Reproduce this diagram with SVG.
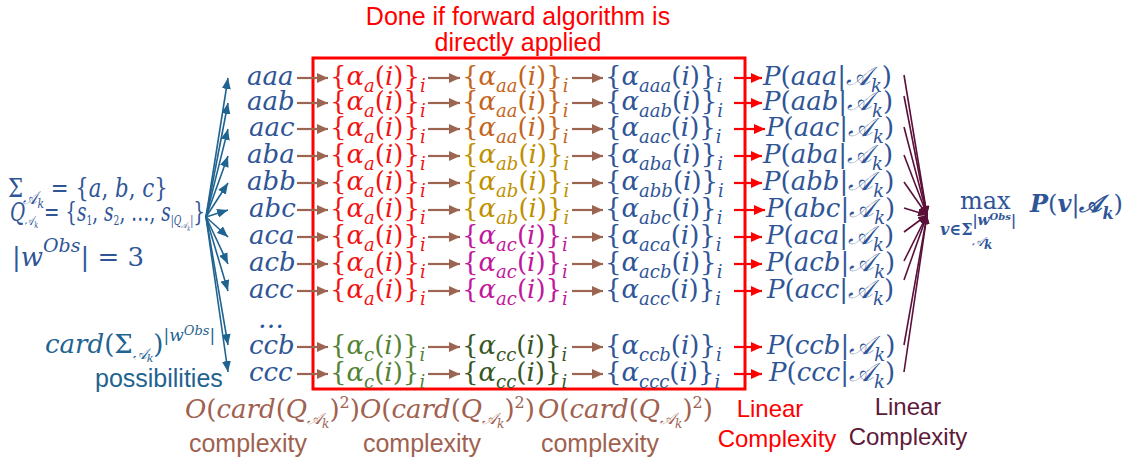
<svg xmlns="http://www.w3.org/2000/svg" width="1141" height="467" viewBox="0 0 1141 467">
<style>
.m{font-family:"DejaVu Serif","Liberation Serif",serif;font-style:italic;font-size:26px}
.u{font-style:normal}
.s{font-size:18px}
.ss{font-size:13px}
.sans{font-family:"Liberation Sans",Arial,sans-serif}
.bl{fill:#2f5597}.rd{fill:#f01414}.gr{fill:#548235}.dg{fill:#375623}.or{fill:#c5651c}.gd{fill:#bf9000}.mg{fill:#c0189c}
.tl{fill:#1f6391}.br{fill:#a0614f}.mr{fill:#5e1a3a}
.lb{stroke:#9c6552;stroke-width:2.2;fill:none}
.lr{stroke:#ff0000;stroke-width:2.2;fill:none}
.lt{stroke:#1f6391;stroke-width:1.6;fill:none}
.lm{stroke:#5a1038;stroke-width:1.6;fill:none}
</style>
<defs>
<marker id="ab" markerUnits="userSpaceOnUse" markerWidth="11" markerHeight="10" refX="11" refY="5" orient="auto"><path d="M0,0L11,5L0,10z" fill="#9c6552"/></marker>
<marker id="ar" markerUnits="userSpaceOnUse" markerWidth="11" markerHeight="10" refX="11" refY="5" orient="auto"><path d="M0,0L11,5L0,10z" fill="#ff0000"/></marker>
<marker id="at" markerUnits="userSpaceOnUse" markerWidth="11" markerHeight="9" refX="11" refY="4.5" orient="auto"><path d="M0,0L11,4.5L0,9z" fill="#1f6391"/></marker>
<marker id="am" markerUnits="userSpaceOnUse" markerWidth="9" markerHeight="8" refX="9" refY="4" orient="auto"><path d="M0,0L9,4L0,8z" fill="#5a1038"/></marker>
</defs>
<rect width="1141" height="467" fill="#ffffff"/>

<g id="title"><text class="sans" font-size="25" fill="#ff0000" text-anchor="middle"><tspan x="518" y="25">Done if forward algorithm is</tspan><tspan x="518" y="51">directly applied</tspan></text></g>
<rect id="box" x="313" y="58" width="432" height="331" fill="none" stroke="#ff0000" stroke-width="3"/>

<g id="connectors">
<g id="fanL">
<line class="lt" x1="206" y1="217" x2="228" y2="78" marker-end="url(#at)"/>
<line class="lt" x1="206" y1="217" x2="228" y2="103" marker-end="url(#at)"/>
<line class="lt" x1="206" y1="217" x2="228" y2="129" marker-end="url(#at)"/>
<line class="lt" x1="206" y1="217" x2="228" y2="156" marker-end="url(#at)"/>
<line class="lt" x1="206" y1="217" x2="228" y2="183" marker-end="url(#at)"/>
<line class="lt" x1="206" y1="217" x2="228" y2="210" marker-end="url(#at)"/>
<line class="lt" x1="206" y1="217" x2="228" y2="237" marker-end="url(#at)"/>
<line class="lt" x1="206" y1="217" x2="228" y2="264" marker-end="url(#at)"/>
<line class="lt" x1="206" y1="217" x2="228" y2="291" marker-end="url(#at)"/>
<line class="lt" x1="206" y1="217" x2="228" y2="345" marker-end="url(#at)"/>
<line class="lt" x1="206" y1="217" x2="228" y2="372" marker-end="url(#at)"/>
</g>
<g id="brown">
<line class="lb" x1="297" y1="78" x2="328" y2="78" marker-end="url(#ab)"/><line class="lb" x1="428" y1="78" x2="460" y2="78" marker-end="url(#ab)"/><line class="lb" x1="572" y1="78" x2="603" y2="78" marker-end="url(#ab)"/>
<line class="lb" x1="297" y1="103" x2="328" y2="103" marker-end="url(#ab)"/><line class="lb" x1="428" y1="103" x2="460" y2="103" marker-end="url(#ab)"/><line class="lb" x1="572" y1="103" x2="603" y2="103" marker-end="url(#ab)"/>
<line class="lb" x1="297" y1="129" x2="328" y2="129" marker-end="url(#ab)"/><line class="lb" x1="428" y1="129" x2="460" y2="129" marker-end="url(#ab)"/><line class="lb" x1="572" y1="129" x2="603" y2="129" marker-end="url(#ab)"/>
<line class="lb" x1="297" y1="156" x2="328" y2="156" marker-end="url(#ab)"/><line class="lb" x1="428" y1="156" x2="460" y2="156" marker-end="url(#ab)"/><line class="lb" x1="572" y1="156" x2="603" y2="156" marker-end="url(#ab)"/>
<line class="lb" x1="297" y1="183" x2="328" y2="183" marker-end="url(#ab)"/><line class="lb" x1="428" y1="183" x2="460" y2="183" marker-end="url(#ab)"/><line class="lb" x1="572" y1="183" x2="603" y2="183" marker-end="url(#ab)"/>
<line class="lb" x1="297" y1="210" x2="328" y2="210" marker-end="url(#ab)"/><line class="lb" x1="428" y1="210" x2="460" y2="210" marker-end="url(#ab)"/><line class="lb" x1="572" y1="210" x2="603" y2="210" marker-end="url(#ab)"/>
<line class="lb" x1="297" y1="237" x2="328" y2="237" marker-end="url(#ab)"/><line class="lb" x1="428" y1="237" x2="460" y2="237" marker-end="url(#ab)"/><line class="lb" x1="572" y1="237" x2="603" y2="237" marker-end="url(#ab)"/>
<line class="lb" x1="297" y1="264" x2="328" y2="264" marker-end="url(#ab)"/><line class="lb" x1="428" y1="264" x2="460" y2="264" marker-end="url(#ab)"/><line class="lb" x1="572" y1="264" x2="603" y2="264" marker-end="url(#ab)"/>
<line class="lb" x1="297" y1="291" x2="328" y2="291" marker-end="url(#ab)"/><line class="lb" x1="428" y1="291" x2="460" y2="291" marker-end="url(#ab)"/><line class="lb" x1="572" y1="291" x2="603" y2="291" marker-end="url(#ab)"/>
<line class="lb" x1="297" y1="347" x2="328" y2="347" marker-end="url(#ab)"/><line class="lb" x1="428" y1="347" x2="460" y2="347" marker-end="url(#ab)"/><line class="lb" x1="572" y1="347" x2="603" y2="347" marker-end="url(#ab)"/>
<line class="lb" x1="297" y1="374" x2="328" y2="374" marker-end="url(#ab)"/><line class="lb" x1="428" y1="374" x2="460" y2="374" marker-end="url(#ab)"/><line class="lb" x1="572" y1="374" x2="603" y2="374" marker-end="url(#ab)"/>
</g>
<g id="redarrows">
<line class="lr" x1="734" y1="78" x2="762" y2="78" marker-end="url(#ar)"/>
<line class="lr" x1="734" y1="103" x2="762" y2="103" marker-end="url(#ar)"/>
<line class="lr" x1="734" y1="129" x2="765" y2="129" marker-end="url(#ar)"/>
<line class="lr" x1="734" y1="156" x2="762" y2="156" marker-end="url(#ar)"/>
<line class="lr" x1="734" y1="183" x2="762" y2="183" marker-end="url(#ar)"/>
<line class="lr" x1="734" y1="210" x2="765" y2="210" marker-end="url(#ar)"/>
<line class="lr" x1="734" y1="237" x2="762" y2="237" marker-end="url(#ar)"/>
<line class="lr" x1="734" y1="264" x2="762" y2="264" marker-end="url(#ar)"/>
<line class="lr" x1="734" y1="291" x2="762" y2="291" marker-end="url(#ar)"/>
<line class="lr" x1="734" y1="347" x2="762" y2="347" marker-end="url(#ar)"/>
<line class="lr" x1="734" y1="374" x2="762" y2="374" marker-end="url(#ar)"/>
</g>
<g id="fanR">
<line class="lm" x1="904" y1="75" x2="927" y2="215" marker-end="url(#am)"/>
<line class="lm" x1="904" y1="96" x2="927" y2="215" marker-end="url(#am)"/>
<line class="lm" x1="904" y1="127" x2="927" y2="215" marker-end="url(#am)"/>
<line class="lm" x1="904" y1="155" x2="927" y2="215" marker-end="url(#am)"/>
<line class="lm" x1="904" y1="182" x2="927" y2="215" marker-end="url(#am)"/>
<line class="lm" x1="904" y1="208" x2="927" y2="215" marker-end="url(#am)"/>
<line class="lm" x1="904" y1="232" x2="927" y2="215" marker-end="url(#am)"/>
<line class="lm" x1="904" y1="261" x2="927" y2="215" marker-end="url(#am)"/>
<line class="lm" x1="904" y1="280" x2="927" y2="215" marker-end="url(#am)"/>
<line class="lm" x1="904" y1="345" x2="927" y2="215" marker-end="url(#am)"/>
<line class="lm" x1="904" y1="372" x2="927" y2="215" marker-end="url(#am)"/>
</g>
</g>

<g id="left">
<g id="sigma" transform="translate(8,197) scale(0.82,1)"><text class="m bl" font-size="24"><tspan class="u">Σ</tspan><tspan class="s" y="7">𝒜</tspan><tspan class="ss" y="11">k</tspan><tspan class="u" y="0"> = {</tspan>a<tspan class="u">, </tspan>b<tspan class="u">, </tspan>c<tspan class="u">}</tspan></text></g>
<g id="qset" transform="translate(10,221) scale(0.71,1)"><text class="m bl" font-size="18">Q<tspan font-size="13" y="4">𝒜</tspan><tspan font-size="9" y="7">k</tspan><tspan class="u" y="0"> = {</tspan>s<tspan font-size="13" y="4" class="u">1</tspan><tspan class="u" y="0">, </tspan>s<tspan font-size="13" y="4" class="u">2</tspan><tspan class="u" y="0">, …, </tspan>s<tspan font-size="13" y="4"><tspan class="u">|</tspan>Q</tspan><tspan font-size="9" y="7">𝒜</tspan><tspan font-size="7" y="10">k</tspan><tspan font-size="13" y="4" class="u">|</tspan><tspan class="u" y="0">}</tspan></text></g>
<g id="wobs"><text class="m bl" x="12" y="266" font-size="28"><tspan class="u">|</tspan>w<tspan font-size="19" y="252">Obs</tspan><tspan class="u" y="266">| = 3</tspan></text></g>
<g id="card"><text class="m tl" x="45" y="353" font-size="22">card<tspan class="u">(Σ</tspan><tspan font-size="15" y="359">𝒜</tspan><tspan font-size="11" y="362">k</tspan><tspan class="u" y="353">)</tspan><tspan font-size="17" y="341" class="u">|</tspan><tspan font-size="17" y="341">w</tspan><tspan font-size="13" y="335">Obs</tspan><tspan font-size="17" y="341" class="u">|</tspan></text></g>
<g id="poss"><text class="sans tl" x="95" y="387" font-size="25">possibilities</text></g>
</g>

<g id="words" class="m bl">
<text x="247" y="85">aaa</text><text x="247" y="110">aab</text><text x="249" y="136">aac</text><text x="247" y="163">aba</text><text x="247" y="190">abb</text><text x="249" y="217">abc</text><text x="249" y="244">aca</text><text x="249" y="271">acb</text><text x="249" y="298">acc</text><text x="258" y="328">…</text><text x="249" y="354">ccb</text><text x="249" y="381">ccc</text>
</g>

<g id="col1" class="m">
<g id="c1-0" transform="translate(330,85)"><text class="rd"><tspan class="u">{</tspan>α<tspan class="s" y="7">a</tspan><tspan class="u" y="0">(</tspan>i<tspan class="u">)}</tspan><tspan class="s" y="7">i</tspan></text></g>
<g id="c1-1" transform="translate(330,110)"><text class="rd"><tspan class="u">{</tspan>α<tspan class="s" y="7">a</tspan><tspan class="u" y="0">(</tspan>i<tspan class="u">)}</tspan><tspan class="s" y="7">i</tspan></text></g>
<g id="c1-2" transform="translate(330,136)"><text class="rd"><tspan class="u">{</tspan>α<tspan class="s" y="7">a</tspan><tspan class="u" y="0">(</tspan>i<tspan class="u">)}</tspan><tspan class="s" y="7">i</tspan></text></g>
<g id="c1-3" transform="translate(330,163)"><text class="rd"><tspan class="u">{</tspan>α<tspan class="s" y="7">a</tspan><tspan class="u" y="0">(</tspan>i<tspan class="u">)}</tspan><tspan class="s" y="7">i</tspan></text></g>
<g id="c1-4" transform="translate(330,190)"><text class="rd"><tspan class="u">{</tspan>α<tspan class="s" y="7">a</tspan><tspan class="u" y="0">(</tspan>i<tspan class="u">)}</tspan><tspan class="s" y="7">i</tspan></text></g>
<g id="c1-5" transform="translate(330,217)"><text class="rd"><tspan class="u">{</tspan>α<tspan class="s" y="7">a</tspan><tspan class="u" y="0">(</tspan>i<tspan class="u">)}</tspan><tspan class="s" y="7">i</tspan></text></g>
<g id="c1-6" transform="translate(330,244)"><text class="rd"><tspan class="u">{</tspan>α<tspan class="s" y="7">a</tspan><tspan class="u" y="0">(</tspan>i<tspan class="u">)}</tspan><tspan class="s" y="7">i</tspan></text></g>
<g id="c1-7" transform="translate(330,271)"><text class="rd"><tspan class="u">{</tspan>α<tspan class="s" y="7">a</tspan><tspan class="u" y="0">(</tspan>i<tspan class="u">)}</tspan><tspan class="s" y="7">i</tspan></text></g>
<g id="c1-8" transform="translate(330,298)"><text class="rd"><tspan class="u">{</tspan>α<tspan class="s" y="7">a</tspan><tspan class="u" y="0">(</tspan>i<tspan class="u">)}</tspan><tspan class="s" y="7">i</tspan></text></g>
<g id="c1-9" transform="translate(330,354)"><text class="gr"><tspan class="u">{</tspan>α<tspan class="s" y="7">c</tspan><tspan class="u" y="0">(</tspan>i<tspan class="u">)}</tspan><tspan class="s" y="7">i</tspan></text></g>
<g id="c1-10" transform="translate(330,381)"><text class="gr"><tspan class="u">{</tspan>α<tspan class="s" y="7">c</tspan><tspan class="u" y="0">(</tspan>i<tspan class="u">)}</tspan><tspan class="s" y="7">i</tspan></text></g>
</g>

<g id="col2" class="m">
<g id="c2-0" transform="translate(462,85)"><text class="or"><tspan class="u">{</tspan>α<tspan class="s" y="7">aa</tspan><tspan class="u" y="0">(</tspan>i<tspan class="u">)}</tspan><tspan class="s" y="7">i</tspan></text></g>
<g id="c2-1" transform="translate(462,110)"><text class="or"><tspan class="u">{</tspan>α<tspan class="s" y="7">aa</tspan><tspan class="u" y="0">(</tspan>i<tspan class="u">)}</tspan><tspan class="s" y="7">i</tspan></text></g>
<g id="c2-2" transform="translate(462,136)"><text class="or"><tspan class="u">{</tspan>α<tspan class="s" y="7">aa</tspan><tspan class="u" y="0">(</tspan>i<tspan class="u">)}</tspan><tspan class="s" y="7">i</tspan></text></g>
<g id="c2-3" transform="translate(462,163)"><text class="gd"><tspan class="u">{</tspan>α<tspan class="s" y="7">ab</tspan><tspan class="u" y="0">(</tspan>i<tspan class="u">)}</tspan><tspan class="s" y="7">i</tspan></text></g>
<g id="c2-4" transform="translate(462,190)"><text class="gd"><tspan class="u">{</tspan>α<tspan class="s" y="7">ab</tspan><tspan class="u" y="0">(</tspan>i<tspan class="u">)}</tspan><tspan class="s" y="7">i</tspan></text></g>
<g id="c2-5" transform="translate(462,217)"><text class="gd"><tspan class="u">{</tspan>α<tspan class="s" y="7">ab</tspan><tspan class="u" y="0">(</tspan>i<tspan class="u">)}</tspan><tspan class="s" y="7">i</tspan></text></g>
<g id="c2-6" transform="translate(462,244)"><text class="mg"><tspan class="u">{</tspan>α<tspan class="s" y="7">ac</tspan><tspan class="u" y="0">(</tspan>i<tspan class="u">)}</tspan><tspan class="s" y="7">i</tspan></text></g>
<g id="c2-7" transform="translate(462,271)"><text class="mg"><tspan class="u">{</tspan>α<tspan class="s" y="7">ac</tspan><tspan class="u" y="0">(</tspan>i<tspan class="u">)}</tspan><tspan class="s" y="7">i</tspan></text></g>
<g id="c2-8" transform="translate(462,298)"><text class="mg"><tspan class="u">{</tspan>α<tspan class="s" y="7">ac</tspan><tspan class="u" y="0">(</tspan>i<tspan class="u">)}</tspan><tspan class="s" y="7">i</tspan></text></g>
<g id="c2-9" transform="translate(462,354)"><text class="dg"><tspan class="u">{</tspan>α<tspan class="s" y="7">cc</tspan><tspan class="u" y="0">(</tspan>i<tspan class="u">)}</tspan><tspan class="s" y="7">i</tspan></text></g>
<g id="c2-10" transform="translate(462,381)"><text class="dg"><tspan class="u">{</tspan>α<tspan class="s" y="7">cc</tspan><tspan class="u" y="0">(</tspan>i<tspan class="u">)}</tspan><tspan class="s" y="7">i</tspan></text></g>
</g>

<g id="col3" class="m bl">
<g id="c3-0" transform="translate(605,85)"><text><tspan class="u">{</tspan>α<tspan class="s" y="7">aaa</tspan><tspan class="u" y="0">(</tspan>i<tspan class="u">)}</tspan><tspan class="s" y="7">i</tspan></text></g>
<g id="c3-1" transform="translate(605,110)"><text><tspan class="u">{</tspan>α<tspan class="s" y="7">aab</tspan><tspan class="u" y="0">(</tspan>i<tspan class="u">)}</tspan><tspan class="s" y="7">i</tspan></text></g>
<g id="c3-2" transform="translate(605,136)"><text><tspan class="u">{</tspan>α<tspan class="s" y="7">aac</tspan><tspan class="u" y="0">(</tspan>i<tspan class="u">)}</tspan><tspan class="s" y="7">i</tspan></text></g>
<g id="c3-3" transform="translate(605,163)"><text><tspan class="u">{</tspan>α<tspan class="s" y="7">aba</tspan><tspan class="u" y="0">(</tspan>i<tspan class="u">)}</tspan><tspan class="s" y="7">i</tspan></text></g>
<g id="c3-4" transform="translate(605,190)"><text><tspan class="u">{</tspan>α<tspan class="s" y="7">abb</tspan><tspan class="u" y="0">(</tspan>i<tspan class="u">)}</tspan><tspan class="s" y="7">i</tspan></text></g>
<g id="c3-5" transform="translate(605,217)"><text><tspan class="u">{</tspan>α<tspan class="s" y="7">abc</tspan><tspan class="u" y="0">(</tspan>i<tspan class="u">)}</tspan><tspan class="s" y="7">i</tspan></text></g>
<g id="c3-6" transform="translate(605,244)"><text><tspan class="u">{</tspan>α<tspan class="s" y="7">aca</tspan><tspan class="u" y="0">(</tspan>i<tspan class="u">)}</tspan><tspan class="s" y="7">i</tspan></text></g>
<g id="c3-7" transform="translate(605,271)"><text><tspan class="u">{</tspan>α<tspan class="s" y="7">acb</tspan><tspan class="u" y="0">(</tspan>i<tspan class="u">)}</tspan><tspan class="s" y="7">i</tspan></text></g>
<g id="c3-8" transform="translate(605,298)"><text><tspan class="u">{</tspan>α<tspan class="s" y="7">acc</tspan><tspan class="u" y="0">(</tspan>i<tspan class="u">)}</tspan><tspan class="s" y="7">i</tspan></text></g>
<g id="c3-9" transform="translate(605,354)"><text><tspan class="u">{</tspan>α<tspan class="s" y="7">ccb</tspan><tspan class="u" y="0">(</tspan>i<tspan class="u">)}</tspan><tspan class="s" y="7">i</tspan></text></g>
<g id="c3-10" transform="translate(605,381)"><text><tspan class="u">{</tspan>α<tspan class="s" y="7">ccc</tspan><tspan class="u" y="0">(</tspan>i<tspan class="u">)}</tspan><tspan class="s" y="7">i</tspan></text></g>
</g>

<g id="colP" class="m bl">
<g id="p-0" transform="translate(763,85)"><text>P<tspan class="u">(</tspan>aaa<tspan class="u">|</tspan>𝒜<tspan class="s" y="7">k</tspan><tspan class="u" y="0">)</tspan></text></g>
<g id="p-1" transform="translate(763,110)"><text>P<tspan class="u">(</tspan>aab<tspan class="u">|</tspan>𝒜<tspan class="s" y="7">k</tspan><tspan class="u" y="0">)</tspan></text></g>
<g id="p-2" transform="translate(766,136)"><text>P<tspan class="u">(</tspan>aac<tspan class="u">|</tspan>𝒜<tspan class="s" y="7">k</tspan><tspan class="u" y="0">)</tspan></text></g>
<g id="p-3" transform="translate(763,163)"><text>P<tspan class="u">(</tspan>aba<tspan class="u">|</tspan>𝒜<tspan class="s" y="7">k</tspan><tspan class="u" y="0">)</tspan></text></g>
<g id="p-4" transform="translate(763,190)"><text>P<tspan class="u">(</tspan>abb<tspan class="u">|</tspan>𝒜<tspan class="s" y="7">k</tspan><tspan class="u" y="0">)</tspan></text></g>
<g id="p-5" transform="translate(766,217)"><text>P<tspan class="u">(</tspan>abc<tspan class="u">|</tspan>𝒜<tspan class="s" y="7">k</tspan><tspan class="u" y="0">)</tspan></text></g>
<g id="p-6" transform="translate(766,244)"><text>P<tspan class="u">(</tspan>aca<tspan class="u">|</tspan>𝒜<tspan class="s" y="7">k</tspan><tspan class="u" y="0">)</tspan></text></g>
<g id="p-7" transform="translate(766,271)"><text>P<tspan class="u">(</tspan>acb<tspan class="u">|</tspan>𝒜<tspan class="s" y="7">k</tspan><tspan class="u" y="0">)</tspan></text></g>
<g id="p-8" transform="translate(767,298)"><text>P<tspan class="u">(</tspan>acc<tspan class="u">|</tspan>𝒜<tspan class="s" y="7">k</tspan><tspan class="u" y="0">)</tspan></text></g>
<g id="p-9" transform="translate(767,354)"><text>P<tspan class="u">(</tspan>ccb<tspan class="u">|</tspan>𝒜<tspan class="s" y="7">k</tspan><tspan class="u" y="0">)</tspan></text></g>
<g id="p-10" transform="translate(769,381)"><text>P<tspan class="u">(</tspan>ccc<tspan class="u">|</tspan>𝒜<tspan class="s" y="7">k</tspan><tspan class="u" y="0">)</tspan></text></g>
</g>

<g id="maxnode" class="m bl">
<text x="960" y="209" font-size="24" style="font-style:normal">max</text>
<text x="940" y="235" font-size="16" font-weight="bold">v<tspan style="font-style:normal">∈Σ</tspan><tspan font-size="14" y="225" style="font-style:normal">|</tspan><tspan font-size="14" y="225">w</tspan><tspan font-size="10" y="220">Obs</tspan><tspan font-size="14" y="225" style="font-style:normal">|</tspan></text>
<text x="972" y="246" font-size="13">𝒜<tspan font-size="12" font-weight="bold" y="249">k</tspan></text>
<text x="1030" y="212" font-size="24" font-weight="bold">P<tspan style="font-style:normal;font-weight:normal">(</tspan>v<tspan style="font-style:normal;font-weight:normal">|</tspan>𝒜<tspan font-size="16" y="219">k</tspan><tspan style="font-style:normal;font-weight:normal" y="212">)</tspan></text>
</g>

<g id="cx" class="m br" font-size="24">
<text x="185" y="418">O<tspan class="u">(</tspan>card<tspan class="u">(</tspan>Q<tspan font-size="16" y="424">𝒜</tspan><tspan font-size="12" y="428">k</tspan><tspan class="u" y="418">)</tspan><tspan class="u" font-size="16" y="408">2</tspan><tspan class="u" y="418">)</tspan></text>
<text x="360" y="418">O<tspan class="u">(</tspan>card<tspan class="u">(</tspan>Q<tspan font-size="16" y="424">𝒜</tspan><tspan font-size="12" y="428">k</tspan><tspan class="u" y="418">)</tspan><tspan class="u" font-size="16" y="408">2</tspan><tspan class="u" y="418">)</tspan></text>
<text x="538" y="418">O<tspan class="u">(</tspan>card<tspan class="u">(</tspan>Q<tspan font-size="16" y="424">𝒜</tspan><tspan font-size="12" y="428">k</tspan><tspan class="u" y="418">)</tspan><tspan class="u" font-size="16" y="408">2</tspan><tspan class="u" y="418">)</tspan></text>
</g>
<g id="cxw" class="sans br" font-size="25" text-anchor="middle">
<text x="248" y="452">complexity</text><text x="422" y="452">complexity</text><text x="600" y="452">complexity</text>
</g>
<g id="lin1" class="sans" font-size="24" fill="#ff0000" text-anchor="middle"><text x="770" y="417">Linear</text><text x="777" y="447">Complexity</text></g>
<g id="lin2" class="sans mr" font-size="24" text-anchor="middle"><text x="908" y="415">Linear</text><text x="908" y="445">Complexity</text></g>
</svg>
